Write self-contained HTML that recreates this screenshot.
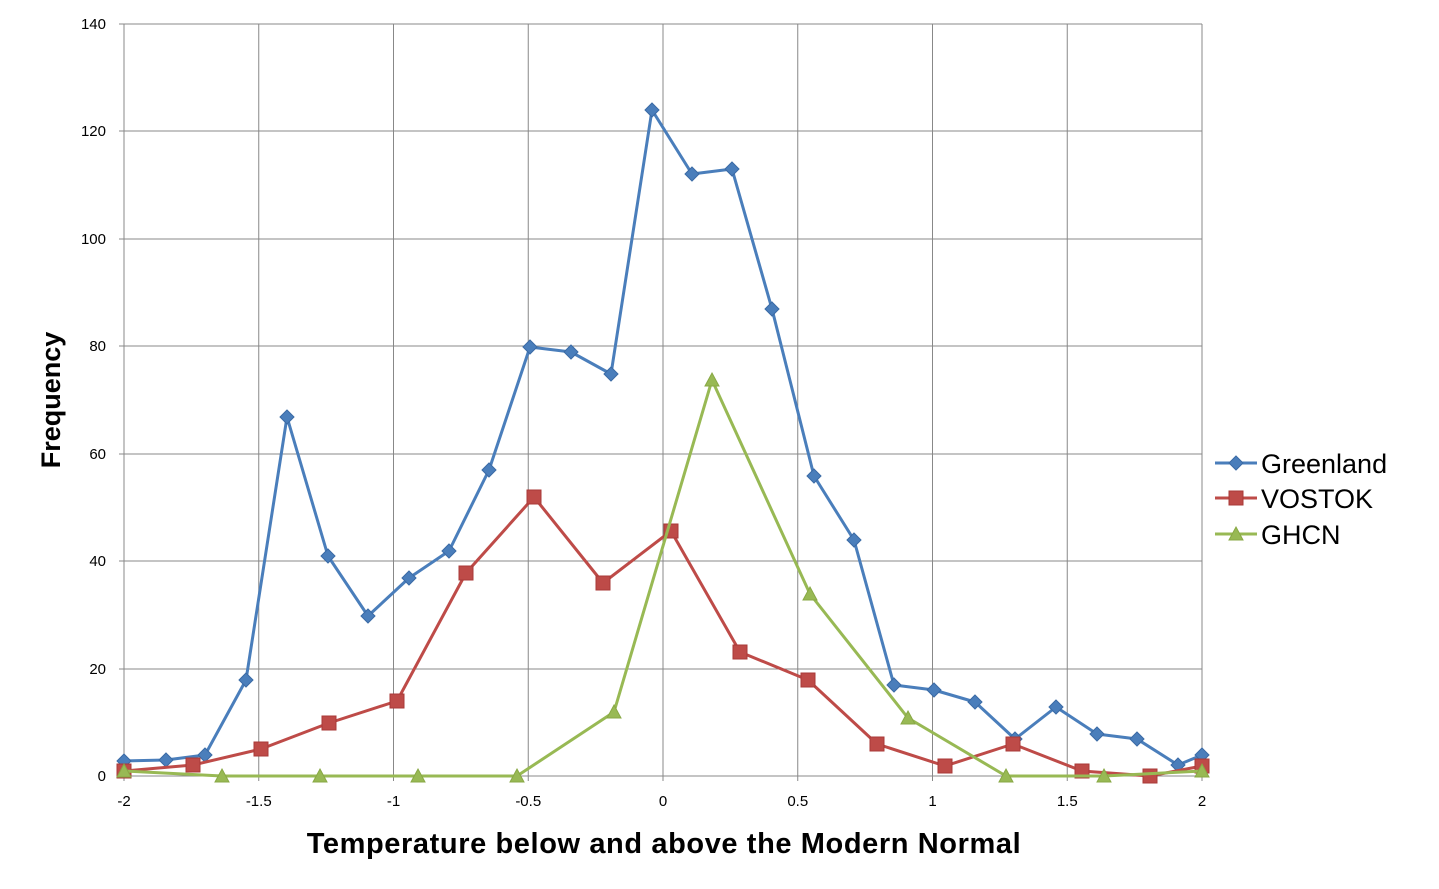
<!DOCTYPE html>
<html><head><meta charset="utf-8"><style>
html,body{margin:0;padding:0;background:#fff;}
svg{display:block;font-family:"Liberation Sans",sans-serif;}
</style></head><body>
<svg width="1439" height="889" viewBox="0 0 1439 889" xmlns="http://www.w3.org/2000/svg">
<rect width="1439" height="889" fill="#fff"/>
<g stroke="#888" stroke-width="1">
<line x1="124" y1="24" x2="1202" y2="24"/>
<line x1="124" y1="131" x2="1202" y2="131"/>
<line x1="124" y1="239" x2="1202" y2="239"/>
<line x1="124" y1="346" x2="1202" y2="346"/>
<line x1="124" y1="454" x2="1202" y2="454"/>
<line x1="124" y1="561" x2="1202" y2="561"/>
<line x1="124" y1="669" x2="1202" y2="669"/>
<line x1="258.75" y1="24" x2="258.75" y2="776"/>
<line x1="393.5" y1="24" x2="393.5" y2="776"/>
<line x1="528.25" y1="24" x2="528.25" y2="776"/>
<line x1="663" y1="24" x2="663" y2="776"/>
<line x1="797.75" y1="24" x2="797.75" y2="776"/>
<line x1="932.5" y1="24" x2="932.5" y2="776"/>
<line x1="1067.25" y1="24" x2="1067.25" y2="776"/>
<line x1="1202" y1="24" x2="1202" y2="776"/>
<line x1="124" y1="24" x2="124" y2="776"/>
<line x1="124" y1="776" x2="1202" y2="776"/>
</g>
<g stroke="#888">
<line x1="119" y1="24" x2="124" y2="24"/><line x1="119" y1="131" x2="124" y2="131"/><line x1="119" y1="239" x2="124" y2="239"/><line x1="119" y1="346" x2="124" y2="346"/><line x1="119" y1="454" x2="124" y2="454"/><line x1="119" y1="561" x2="124" y2="561"/><line x1="119" y1="669" x2="124" y2="669"/><line x1="119" y1="776" x2="124" y2="776"/>
<line x1="124" y1="776" x2="124" y2="781"/><line x1="258.75" y1="776" x2="258.75" y2="781"/><line x1="393.5" y1="776" x2="393.5" y2="781"/><line x1="528.25" y1="776" x2="528.25" y2="781"/><line x1="663" y1="776" x2="663" y2="781"/><line x1="797.75" y1="776" x2="797.75" y2="781"/><line x1="932.5" y1="776" x2="932.5" y2="781"/><line x1="1067.25" y1="776" x2="1067.25" y2="781"/><line x1="1202" y1="776" x2="1202" y2="781"/>
</g>
<g font-size="15" fill="#000" text-anchor="end">
<text x="106" y="29">140</text><text x="106" y="136">120</text><text x="106" y="244">100</text><text x="106" y="351">80</text><text x="106" y="459">60</text><text x="106" y="566">40</text><text x="106" y="674">20</text><text x="106" y="781">0</text>
</g>
<g font-size="15" fill="#000" text-anchor="middle">
<text x="124" y="806">-2</text><text x="258.75" y="806">-1.5</text><text x="393.5" y="806">-1</text><text x="528.25" y="806">-0.5</text><text x="663" y="806">0</text><text x="797.75" y="806">0.5</text><text x="932.5" y="806">1</text><text x="1067.25" y="806">1.5</text><text x="1202" y="806">2</text>
</g>
<text x="664" y="853" font-size="29" font-weight="bold" text-anchor="middle" letter-spacing="0.6">Temperature below and above the Modern Normal</text>
<text transform="translate(60,400) rotate(-90)" font-size="27" font-weight="bold" text-anchor="middle">Frequency</text>

<defs>
<path id="dia" d="M0,-7 L7,0 L0,7 L-7,0 Z" fill="#4a7ebb" stroke="#3a6aa5" stroke-width="1"/>
<rect id="sq" x="-7" y="-7" width="14" height="14" fill="#be4b48" stroke="#a83a37" stroke-width="1"/>
<path id="tri" d="M0,-7 L7,6 L-7,6 Z" fill="#98b954" stroke="#88a844" stroke-width="1"/>
</defs>

<polyline fill="none" stroke="#4a7ebb" stroke-width="3" stroke-linejoin="round" points="124,761 166,760 205,755 246,680 287,417 328,556 368,616 409,578 449,551 489,470 530,347 571,352 611,374 652,110 692,174 732,169 772,309 814,476 854,540 894,685 934,690 975,702 1015,739 1056,707 1097,734 1137,739 1178,765 1202,755"/>
<g>
<use href="#dia" x="124" y="761"/><use href="#dia" x="166" y="760"/><use href="#dia" x="205" y="755"/><use href="#dia" x="246" y="680"/><use href="#dia" x="287" y="417"/><use href="#dia" x="328" y="556"/><use href="#dia" x="368" y="616"/><use href="#dia" x="409" y="578"/><use href="#dia" x="449" y="551"/><use href="#dia" x="489" y="470"/><use href="#dia" x="530" y="347"/><use href="#dia" x="571" y="352"/><use href="#dia" x="611" y="374"/><use href="#dia" x="652" y="110"/><use href="#dia" x="692" y="174"/><use href="#dia" x="732" y="169"/><use href="#dia" x="772" y="309"/><use href="#dia" x="814" y="476"/><use href="#dia" x="854" y="540"/><use href="#dia" x="894" y="685"/><use href="#dia" x="934" y="690"/><use href="#dia" x="975" y="702"/><use href="#dia" x="1015" y="739"/><use href="#dia" x="1056" y="707"/><use href="#dia" x="1097" y="734"/><use href="#dia" x="1137" y="739"/><use href="#dia" x="1178" y="765"/><use href="#dia" x="1202" y="755"/>
</g>

<polyline fill="none" stroke="#be4b48" stroke-width="3" stroke-linejoin="round" points="124,771 193,765 261,749 329,723 397,701 466,573 534,497 603,583 671,531 740,652 808,680 877,744 945,766 1013,744 1082,771 1150,776 1202,766"/>
<g>
<use href="#sq" x="124" y="771"/><use href="#sq" x="193" y="765"/><use href="#sq" x="261" y="749"/><use href="#sq" x="329" y="723"/><use href="#sq" x="397" y="701"/><use href="#sq" x="466" y="573"/><use href="#sq" x="534" y="497"/><use href="#sq" x="603" y="583"/><use href="#sq" x="671" y="531"/><use href="#sq" x="740" y="652"/><use href="#sq" x="808" y="680"/><use href="#sq" x="877" y="744"/><use href="#sq" x="945" y="766"/><use href="#sq" x="1013" y="744"/><use href="#sq" x="1082" y="771"/><use href="#sq" x="1150" y="776"/><use href="#sq" x="1202" y="766"/>
</g>

<polyline fill="none" stroke="#98b954" stroke-width="3" stroke-linejoin="round" points="124,771 222,776 320,776 418,776 517,776 614,712 712,380 810,594 908,718 1006,776 1104,776 1202,771"/>
<g>
<use href="#tri" x="124" y="771"/><use href="#tri" x="222" y="776"/><use href="#tri" x="320" y="776"/><use href="#tri" x="418" y="776"/><use href="#tri" x="517" y="776"/><use href="#tri" x="614" y="712"/><use href="#tri" x="712" y="380"/><use href="#tri" x="810" y="594"/><use href="#tri" x="908" y="718"/><use href="#tri" x="1006" y="776"/><use href="#tri" x="1104" y="776"/><use href="#tri" x="1202" y="771"/>
</g>

<g font-size="27" fill="#000">
<line x1="1215" y1="463" x2="1257" y2="463" stroke="#4a7ebb" stroke-width="3"/><use href="#dia" x="1236" y="463"/>
<text x="1261" y="473">Greenland</text>
<line x1="1215" y1="498" x2="1257" y2="498" stroke="#be4b48" stroke-width="3"/><use href="#sq" x="1236" y="498"/>
<text x="1261" y="508">VOSTOK</text>
<line x1="1215" y1="534" x2="1257" y2="534" stroke="#98b954" stroke-width="3"/><use href="#tri" x="1236" y="534"/>
<text x="1261" y="544">GHCN</text>
</g>
</svg>
</body></html>
